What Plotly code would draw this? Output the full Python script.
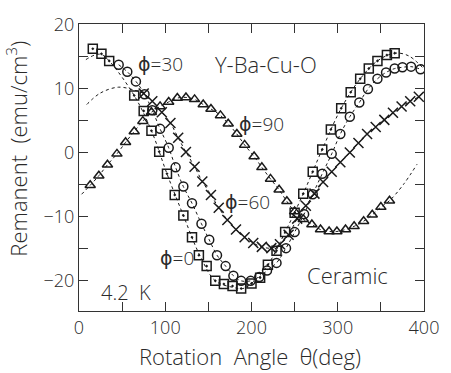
import plotly.graph_objects as go

# phi = 0 (squares)
sq_x = [16, 26, 35, 64, 75, 84, 93, 102, 111, 121, 131, 139, 148, 158, 168, 178,
        188, 200, 210, 219, 229, 239, 250, 260, 271, 282, 292, 304, 315, 326, 336,
        346, 357, 366]
sq_y = [16.2, 15.4, 14.3, 8.9, 6.5, 3.4, 0.15, -3.3, -6.6, -9.8, -13.2, -16.0,
        -17.7, -20.0, -20.5, -20.8, -21.2, -20.4, -19.5, -17.5, -15.3, -12.4, -9.4,
        -6.4, -3.0, 0.5, 3.6, 6.9, 9.4, 11.5, 13.1, 14.3, 15.2, 15.5]

# phi = 30 (circles)
ci_x = [46, 56, 66, 76, 85, 94, 104, 112, 121, 131, 142, 151, 160, 170, 179, 188,
        199, 209, 218, 229, 240, 250, 261, 271, 282, 293, 303, 314, 325, 335, 346,
        356, 366, 375, 385, 396]
ci_y = [13.7, 12.6, 11.1, 9.1, 6.6, 3.7, 0.75, -2.3, -5.3, -7.9, -11.1, -13.6,
        -16.0, -17.7, -19.2, -20.0, -20.0, -19.4, -18.4, -17.2, -14.9, -12.4, -9.6,
        -6.5, -3.3, -0.2, 2.9, 5.6, 7.8, 9.9, 11.5, 12.5, 13.1, 13.3, 13.4, 13.0]

# phi = 60 (crosses)
cr_x = [75, 85, 96, 106, 115, 124, 134, 143, 153, 162, 172, 182, 192, 202, 212,
        223, 233, 243, 253, 263, 273, 283, 293, 303, 314, 324, 334, 344, 354, 364,
        374, 384, 394]
cr_y = [9.2, 8.0, 6.3, 4.6, 2.3, 0.1, -2.2, -4.5, -6.6, -8.6, -10.5, -12.0, -13.2,
        -14.1, -14.7, -14.9, -14.3, -12.8, -10.3, -8.3, -6.4, -4.6, -3.0, -1.5,
        0.0, 1.5, 2.9, 4.0, 5.1, 6.2, 7.2, 8.0, 8.7]

# phi = 90 (triangles)
tr_x = [13, 23, 33, 44, 54, 64, 74, 84, 94, 104, 114, 124, 134, 144, 153, 164,
        173, 183, 192, 203, 212, 222, 232, 241, 250, 260, 270, 280, 290, 299, 309,
        319, 330, 340, 350, 360]
tr_y = [-5.1, -3.6, -1.9, -0.2, 1.6, 3.3, 4.9, 6.3, 7.2, 7.9, 8.5, 8.6, 8.3, 7.5,
        6.8, 5.8, 4.5, 2.9, 1.2, -0.6, -2.3, -4.1, -5.8, -7.6, -9.2, -10.4, -11.2,
        -12.0, -12.3, -12.3, -12.0, -11.5, -10.7, -9.7, -8.5, -7.5]

# dotted fitted curves, sampled knots
fit_sq_x = [8, 18, 26, 35, 64, 84, 102, 121, 140, 158, 178, 190, 200, 219, 239,
            260, 282, 304, 326, 346, 366, 382, 398]
fit_sq_y = [14.5, 15.2, 15.3, 14.3, 8.9, 3.4, -3.3, -9.8, -16.0, -20.0, -21.0,
            -21.2, -20.4, -17.5, -12.4, -6.4, 0.5, 6.9, 11.5, 14.3, 15.5, 15.1, 13.3]
fit_cr_x = [9, 25, 46, 65] + cr_x
fit_cr_y = [7.5, 9.3, 10.2, 9.7] + cr_y
fit_tr_x = [3] + tr_x + [376, 392]
fit_tr_y = [-6.5] + tr_y + [-5.0, -1.8]

FONT = "Open Sans, DejaVu Sans"
WEIGHT = 300
INK = "#1a1a1a"
TXT = "#2a2a2a"
PHI = '<span style="font-family:DejaVu Sans;font-weight:normal">\u03d5</span>'

fig = go.Figure()

for fx, fy in [(fit_sq_x, fit_sq_y), (ci_x, ci_y), (fit_cr_x, fit_cr_y), (fit_tr_x, fit_tr_y)]:
    fig.add_trace(go.Scatter(x=fx, y=fy, mode="lines", line_shape="spline",
                             line=dict(color=INK, width=1, dash="dot"),
                             hoverinfo="skip", showlegend=False))

series = [
    (tr_x, tr_y, "triangle-up-open", 9),
    (cr_x, cr_y, "x-thin-open", 10),
    (ci_x, ci_y, "circle-open", 9),
    (sq_x, sq_y, "square-open-dot", 9),
]
for sx, sy, sym, size in series:
    fig.add_trace(go.Scatter(x=sx, y=sy, mode="markers", showlegend=False,
                             marker=dict(symbol=sym, size=size, color=INK,
                                         line=dict(color=INK, width=1.5))))

axis_common = dict(showline=True, linecolor="#333", linewidth=1, mirror="allticks",
                   ticks="inside", ticklen=9, tickcolor="#333", showgrid=False,
                   zeroline=False,
                   tickfont=dict(family=FONT, size=18, color=TXT, weight=WEIGHT))

fig.update_xaxes(range=[0, 400], tickvals=[0, 100, 200, 300, 400],
                 minor=dict(dtick=50, ticks="inside", ticklen=9, tickcolor="#333"),
                 **axis_common)
fig.update_yaxes(range=[-24.7, 20.05], tickvals=[-20, -10, 0, 10, 20],
                 ticktext=["\u221220", "\u221210", "0", "10", "20"],
                 minor=dict(dtick=5, ticks="inside", ticklen=9, tickcolor="#333"),
                 **axis_common)

texts = [
    (PHI + "=30", 163, 55, 19),
    ("Y-Ba-Cu-O", 272, 55, 22),
    (PHI + "=90", 267, 118, 19),
    (PHI + "=60", 253, 198, 19),
    (PHI + "=0", 180, 256, 19),
    ("Ceramic", 356, 274, 22),
    ("4.2  K", 127, 292, 20),
]
L, R, T, B = 79, 435, 14, 311
for txt, px, py, fs in texts:
    fig.add_annotation(text=txt, xref="paper", yref="paper",
                       x=(px - L) / (R - L), y=(B - py) / (B - T),
                       xanchor="center", yanchor="middle", showarrow=False,
                       font=dict(family=FONT, size=fs, color=TXT, weight=WEIGHT))

fig.add_annotation(text="Rotation  Angle  \u03b8(deg)", xref="paper", yref="paper",
                   x=(255 - L) / (R - L), y=(B - 358) / (B - T),
                   xanchor="center", yanchor="middle", showarrow=False,
                   font=dict(family=FONT, size=22, color=TXT, weight=WEIGHT))
fig.add_annotation(text="Remanent  (emu/cm<sup>3</sup>)", xref="paper", yref="paper",
                   x=(15 - L) / (R - L), y=(B - 143) / (B - T), textangle=-90,
                   xanchor="center", yanchor="middle", showarrow=False,
                   font=dict(family=FONT, size=22, color=TXT, weight=WEIGHT))

fig.update_layout(width=451, height=373, margin=dict(l=L, r=451 - R, t=T, b=373 - B),
                  paper_bgcolor="white", plot_bgcolor="white")

fig.write_html("out.html")
